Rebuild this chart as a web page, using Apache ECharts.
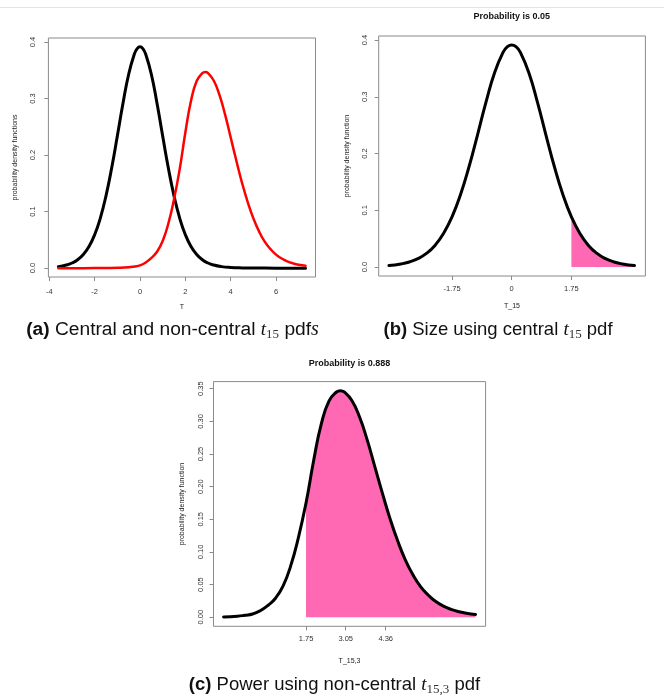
<!DOCTYPE html>
<html>
<head>
<meta charset="utf-8">
<script src="https://cdn.jsdelivr.net/npm/echarts@6/dist/echarts.min.js"></script>
<style>
html,body{margin:0;padding:0;background:#fff;}
#chart{width:664px;height:695px;}
</style>
</head>
<body>
<div id="chart"></div>
<script>
// ---------- data ----------
// central t(15) density
const centralX = [-3.6,-3.25,-3,-2.75,-2.5,-2.25,-2,-1.75,-1.5,-1.25,-1,-0.75,-0.5,-0.25,-0.125,0,0.125,0.25,0.5,0.75,1,1.25,1.5,1.75,2,2.25,2.5,2.75,3,3.25,3.6,4,4.5,5,6,7.3];
const centralY = [0.0027,0.0055,0.0091,0.0149,0.0241,0.0382,0.0591,0.0886,0.128,0.1772,0.2336,0.2916,0.343,0.3787,0.3883,0.3915,0.3883,0.3787,0.343,0.2916,0.2336,0.1772,0.128,0.0886,0.0591,0.0382,0.0241,0.0149,0.0091,0.0055,0.0027,0.0012,0.0004,0.0002,0.0,0.0];
// non-central t(15, 3) density
const ncX = [-3.6,-2.5,-1.5,-0.95,-0.5,-0.25,0,0.25,0.5,0.75,1,1.25,1.5,1.75,2,2.25,2.5,2.75,2.875,3,3.25,3.5,3.75,4,4.25,4.5,4.75,5,5.25,5.5,5.75,6,6.25,6.5,6.75,7,7.3];
const ncY = [0,0,0.0002,0.0005,0.0015,0.003,0.005,0.010,0.018,0.029,0.048,0.079,0.122,0.175,0.240,0.296,0.331,0.345,0.347,0.345,0.332,0.307,0.272,0.231,0.190,0.151,0.117,0.088,0.065,0.047,0.034,0.024,0.017,0.012,0.0085,0.006,0.0042];

const criticalValue = 1.75;
const panelBRange = [-3.6, 3.6];
const panelCStart = -0.95;

const ticksAX = [-4,-2,0,2,4,6];
const ticksAY = [0,0.1,0.2,0.3,0.4];
const ticksBX = [-1.75,0,1.75];
const ticksBY = [0,0.1,0.2,0.3,0.4];
const ticksCX = [1.75,3.05,4.36];
const ticksCY = [0,0.05,0.1,0.15,0.2,0.25,0.3,0.35];

const titleB = 'Probability is 0.05';
const titleC = 'Probability is 0.888';
const xNameA = 'T', xNameB = 'T_15', xNameC = 'T_15,3';
const yNameA = 'probability density functions';
const yNameBC = 'probability density function';

// ---------- helpers ----------
const pairs = (xs, ys, lo, hi) => xs.map((x,i)=>[x,ys[i]]).filter(p=>p[0]>=lo-1e-9 && p[0]<=hi+1e-9);
const centralA = pairs(centralX, centralY, -3.6, 7.3);
const ncA = pairs(ncX, ncY, -3.6, 7.3);
const centralB = pairs(centralX, centralY, panelBRange[0], panelBRange[1]);
const fillB = pairs(centralX, centralY, criticalValue, panelBRange[1]);
const ncC = pairs(ncX, ncY, panelCStart, 7.3);
const fillC = pairs(ncX, ncY, criticalValue, 7.3);

const SANS = '"Liberation Sans", Arial, sans-serif';
const SERIF = '"Liberation Serif", "Times New Roman", serif';
const BOX = '#8a8a8a';
const PINK = '#FF69B4';
const SMOOTH = 0.5;

// smooth cubic path through pixel points (unclamped Catmull-Rom style)
function smoothPath(pts, k){
  const n = pts.length;
  const cps = [];
  for (let i = 0; i < n; i++){
    if (i === 0 || i === n-1){ cps.push([pts[i][0], pts[i][1]]); continue; }
    const p = pts[i], a = pts[i-1], b = pts[i+1];
    const vx = (b[0]-a[0])*k, vy = (b[1]-a[1])*k;
    let d0 = Math.hypot(p[0]-a[0], p[1]-a[1]), d1 = Math.hypot(b[0]-p[0], b[1]-p[1]);
    const s = d0 + d1; if (s) { d0 /= s; d1 /= s; }
    cps.push([p[0]-vx*d0, p[1]-vy*d0]);
    cps.push([p[0]+vx*d1, p[1]+vy*d1]);
  }
  let d = 'M' + pts[0][0] + ' ' + pts[0][1];
  for (let i = 0; i < n-1; i++){
    const c1 = cps[2*i], c2 = cps[2*i+1], q = pts[i+1];
    d += ' C' + c1[0] + ' ' + c1[1] + ' ' + c2[0] + ' ' + c2[1] + ' ' + q[0] + ' ' + q[1];
  }
  return d;
}

function curveSeries(gi, data, color, width, z){
  return {type:'custom', coordinateSystem:'cartesian2d', xAxisIndex:gi, yAxisIndex:gi, data, z, silent:true, clip:false,
    renderItem:(params, api)=>{
      if (params.dataIndex !== 0) return null;
      const pts = data.map(p=>api.coord(p));
      return {type:'path', shape:{pathData:smoothPath(pts, SMOOTH)},
        style:{fill:null, stroke:color, lineWidth:width, lineJoin:'round', lineCap:'round'}};
    }};
}
function fillSeries(gi, data, z){
  return {type:'custom', coordinateSystem:'cartesian2d', xAxisIndex:gi, yAxisIndex:gi, data, z, silent:true, clip:false,
    renderItem:(params, api)=>{
      if (params.dataIndex !== 0) return null;
      const pts = data.map(p=>api.coord(p));
      const last = api.coord([data[data.length-1][0], 0]);
      const first = api.coord([data[0][0], 0]);
      const d = smoothPath(pts, SMOOTH) + ' L' + last[0] + ' ' + last[1] + ' L' + first[0] + ' ' + first[1] + ' Z';
      return {type:'path', shape:{pathData:d}, style:{fill:PINK, stroke:null}};
    }};
}

function xAxisCfg(gi, min, max, ticks, fmt, margin){
  return {type:'value', gridIndex:gi, min, max,
    axisLine:{show:false, onZero:false}, splitLine:{show:false},
    axisTick:{show:true, customValues:ticks, length:4, lineStyle:{color:BOX, width:1}},
    axisLabel:{show:true, customValues:ticks, formatter:fmt, margin, fontSize:7.5, fontFamily:SANS, color:'#333'}};
}
function yAxisCfg(gi, min, max, ticks, fmt, margin){
  return {type:'value', gridIndex:gi, min, max,
    axisLine:{show:false, onZero:false}, splitLine:{show:false},
    axisTick:{show:true, customValues:ticks, length:4, lineStyle:{color:BOX, width:1}},
    axisLabel:{show:true, customValues:ticks, formatter:fmt, margin, rotate:90, fontSize:7.5, fontFamily:SANS, color:'#333'}};
}

// caption builder with measured pieces
const mctx = document.createElement('canvas').getContext('2d');
function caption(pieces, cx, cy){
  let widths = pieces.map(p=>{mctx.font = p.font; return mctx.measureText(p.text).width;});
  let total = widths.reduce((a,b)=>a+b,0);
  let x = cx - total/2;
  const els = [];
  pieces.forEach((p,i)=>{
    els.push({type:'text', x:x, y:cy + (p.dy||0), silent:true,
      style:{text:p.text, font:p.font, fill:p.color||'#111', align:'left', verticalAlign:'middle', textAlign:'left', textVerticalAlign:'middle'}});
    x += widths[i];
  });
  return els;
}
const F_B = 'bold 18.5px ' + SANS, F_R = '18.5px ' + SANS, F_I = 'italic 19px ' + SERIF, F_S = '13px ' + SERIF;
const F_RA = '19.2px ' + SANS, F_BA = 'bold 19.2px ' + SANS;
const capA = caption([{text:'(a)',font:F_BA},{text:' Central and non-central ',font:F_RA},{text:'t',font:F_I},{text:'15',font:F_S,dy:5,color:'#333'},{text:' pdf',font:F_RA},{text:'s',font:'italic 20px ' + SERIF}], 172.5, 330);
const capB = caption([{text:'(b)',font:F_B},{text:' Size using central ',font:F_R},{text:'t',font:F_I},{text:'15',font:F_S,dy:5,color:'#333'},{text:' pdf',font:F_R}], 498, 330);
const capC = caption([{text:'(c)',font:F_B},{text:' Power using non-central ',font:F_R},{text:'t',font:F_I},{text:'15,3',font:F_S,dy:5,color:'#333'},{text:' pdf',font:F_R}], 334.5, 684.5);

function txt(text, x, y, opts){
  opts = opts || {};
  return {type:'text', x, y, rotation:opts.rot||0, silent:true,
    style:{text, font:opts.font||('7px ' + SANS), fill:opts.color||'#222', align:'center', verticalAlign:'middle', textAlign:'center', textVerticalAlign:'middle'}};
}

const chart = echarts.init(document.getElementById('chart'), null, {renderer:'canvas', width:664, height:695});
chart.setOption({
  animation:false,
  backgroundColor:'#fff',
  grid:[
    {left:48.4, top:38, width:267.1, height:239, show:true, borderColor:BOX, borderWidth:1, backgroundColor:'transparent', containLabel:false},
    {left:378.7, top:36, width:266.7, height:240, show:true, borderColor:BOX, borderWidth:1, backgroundColor:'transparent', containLabel:false},
    {left:213.5, top:381.6, width:272.1, height:244.7, show:true, borderColor:BOX, borderWidth:1, backgroundColor:'transparent', containLabel:false}
  ],
  xAxis:[
    xAxisCfg(0, -4.04, 7.74, ticksAX, v=>String(v), 11),
    xAxisCfg(1, -3.9, 3.92, ticksBX, v=>v===0?'0':v.toFixed(2), 8.5),
    xAxisCfg(2, -1.28, 7.63, ticksCX, v=>v.toFixed(2), 9)
  ],
  yAxis:[
    yAxisCfg(0, -0.01566, 0.40716, ticksAY, v=>v.toFixed(1), 11),
    yAxisCfg(1, -0.01566, 0.40716, ticksBY, v=>v.toFixed(1), 10),
    yAxisCfg(2, -0.0139, 0.3609, ticksCY, v=>v.toFixed(2), 9)
  ],
  series:[
    curveSeries(0, centralA, '#000', 3, 2),
    curveSeries(0, ncA, '#ff0000', 2.5, 3),
    fillSeries(1, fillB, 1),
    curveSeries(1, centralB, '#000', 3, 2),
    fillSeries(2, fillC, 1),
    curveSeries(2, ncC, '#000', 3, 2)
  ],
  graphic:[
    {type:'line', silent:true, shape:{x1:0, y1:7.5, x2:664, y2:7.5}, style:{stroke:'#e4e4e4', lineWidth:1}},
    txt(titleB, 511.7, 17, {font:'bold 9px ' + SANS, color:'#111'}),
    txt(titleC, 349.5, 363.5, {font:'bold 9px ' + SANS, color:'#111'}),
    txt(xNameA, 182, 307.5),
    txt(xNameB, 512, 306.5),
    txt(xNameC, 349.5, 661),
    txt(yNameA, 15, 157.5, {rot:Math.PI/2}),
    txt(yNameBC, 346.7, 156, {rot:Math.PI/2}),
    txt(yNameBC, 181.7, 504, {rot:Math.PI/2}),
    ...capA, ...capB, ...capC
  ]
});
</script>
</body>
</html>
